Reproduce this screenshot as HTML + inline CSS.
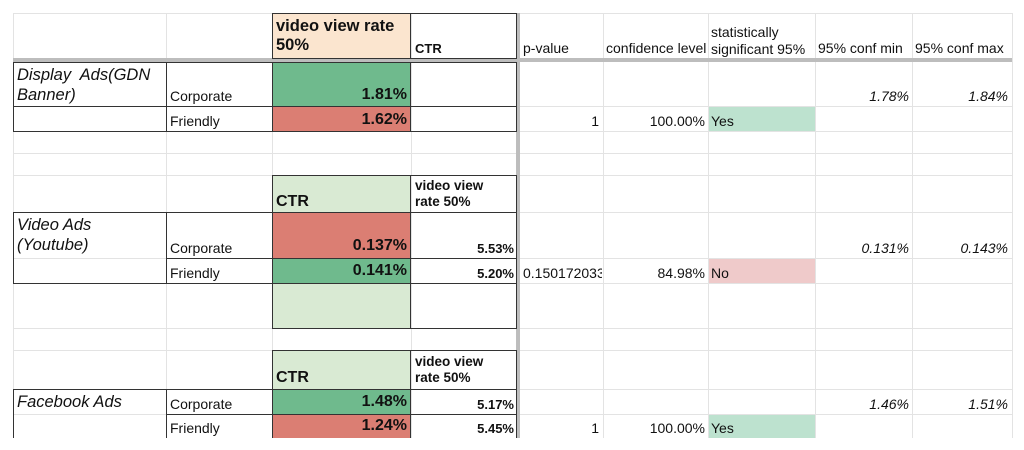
<!DOCTYPE html>
<html><head><meta charset="utf-8"><style>
body{margin:0;width:1024px;height:450px;background:#fff;position:relative;overflow:hidden;font-family:"Liberation Sans",Arial,sans-serif;color:#111}
.h{position:absolute;height:1px;background:#e3e3e3;left:13px;width:999px}
.v{position:absolute;width:1px;background:#e3e3e3;top:13px;height:425px}
.f{position:absolute}
.b{position:absolute;border:1px solid #333;box-sizing:border-box}
.t{position:absolute;font-size:14px;white-space:nowrap;line-height:15px}
.r{text-align:right}
.bd{font-weight:bold;font-size:13px}
.big{font-size:16px;font-weight:bold}
.it{font-style:italic}
</style></head><body>
<!-- fills -->
<div class="f" style="left:272px;top:13px;width:139px;height:45px;background:#fbe5cf"></div>
<div class="f" style="left:272px;top:62px;width:139px;height:44px;background:#6fba8d"></div>
<div class="f" style="left:272px;top:106px;width:139px;height:25px;background:#db7e73"></div>
<div class="f" style="left:708px;top:106px;width:107px;height:25px;background:#bde2cf"></div>
<div class="f" style="left:272px;top:175px;width:139px;height:37px;background:#d9ead3"></div>
<div class="f" style="left:272px;top:212px;width:139px;height:46px;background:#db7e73"></div>
<div class="f" style="left:272px;top:258px;width:139px;height:25px;background:#6fba8d"></div>
<div class="f" style="left:708px;top:258px;width:107px;height:25px;background:#efcaca"></div>
<div class="f" style="left:272px;top:283px;width:139px;height:45px;background:#d9ead3"></div>
<div class="f" style="left:272px;top:350px;width:139px;height:39px;background:#d9ead3"></div>
<div class="f" style="left:272px;top:389px;width:139px;height:25px;background:#6fba8d"></div>
<div class="f" style="left:272px;top:414px;width:139px;height:24px;background:#db7e73"></div>
<div class="f" style="left:708px;top:414px;width:107px;height:24px;background:#bde2cf"></div>
<!-- grid -->
<div class="h" style="top:13px"></div><div class="h" style="top:106px"></div><div class="h" style="top:131px"></div>
<div class="h" style="top:153px"></div><div class="h" style="top:175px"></div><div class="h" style="top:212px"></div>
<div class="h" style="top:258px"></div><div class="h" style="top:283px"></div><div class="h" style="top:328px"></div>
<div class="h" style="top:350px"></div><div class="h" style="top:389px"></div><div class="h" style="top:414px"></div>
<div class="v" style="left:13px"></div><div class="v" style="left:166px"></div><div class="v" style="left:272px"></div>
<div class="v" style="left:411px"></div><div class="v" style="left:603px"></div><div class="v" style="left:708px"></div>
<div class="v" style="left:815px"></div><div class="v" style="left:912px"></div><div class="v" style="left:1012px"></div>
<!-- thick frozen dividers -->
<div class="f" style="left:13px;top:58px;width:999px;height:4px;background:#bdbdbd"></div>
<div class="f" style="left:516px;top:13px;width:4px;height:425px;background:#bdbdbd"></div>
<!-- dark borders -->
<div class="b" style="left:272px;top:13px;width:245px;height:46px"></div>
<div class="b" style="left:410px;top:13px;width:1px;height:46px;border-width:0 0 0 1px"></div>
<div class="b" style="left:13px;top:62px;width:504px;height:70px"></div>
<div class="b" style="left:166px;top:62px;width:1px;height:70px;border-width:0 0 0 1px"></div>
<div class="b" style="left:272px;top:62px;width:1px;height:70px;border-width:0 0 0 1px"></div>
<div class="b" style="left:410px;top:62px;width:1px;height:70px;border-width:0 0 0 1px"></div>
<div class="b" style="left:13px;top:106px;width:504px;height:1px;border-width:1px 0 0 0"></div>
<div class="b" style="left:272px;top:175px;width:245px;height:38px"></div>
<div class="b" style="left:410px;top:175px;width:1px;height:38px;border-width:0 0 0 1px"></div>
<div class="b" style="left:13px;top:212px;width:504px;height:72px"></div>
<div class="b" style="left:166px;top:212px;width:1px;height:72px;border-width:0 0 0 1px"></div>
<div class="b" style="left:272px;top:212px;width:1px;height:72px;border-width:0 0 0 1px"></div>
<div class="b" style="left:410px;top:212px;width:1px;height:72px;border-width:0 0 0 1px"></div>
<div class="b" style="left:166px;top:258px;width:351px;height:1px;border-width:1px 0 0 0"></div>
<div class="b" style="left:272px;top:283px;width:245px;height:46px"></div>
<div class="b" style="left:410px;top:283px;width:1px;height:46px;border-width:0 0 0 1px"></div>
<div class="b" style="left:272px;top:350px;width:245px;height:40px"></div>
<div class="b" style="left:410px;top:350px;width:1px;height:40px;border-width:0 0 0 1px"></div>
<div class="b" style="left:13px;top:389px;width:504px;height:49px;border-bottom:0"></div>
<div class="b" style="left:166px;top:389px;width:1px;height:49px;border-width:0 0 0 1px"></div>
<div class="b" style="left:272px;top:389px;width:1px;height:49px;border-width:0 0 0 1px"></div>
<div class="b" style="left:410px;top:389px;width:1px;height:49px;border-width:0 0 0 1px"></div>
<div class="b" style="left:166px;top:414px;width:351px;height:1px;border-width:1px 0 0 0"></div>
<!-- header texts -->
<div class="t big" style="left:276px;top:17px;line-height:19px;font-size:16.5px">video view rate<br>50%</div>
<div class="t bd" style="left:415px;top:41px">CTR</div>
<div class="t" style="left:523px;top:41px">p-value</div>
<div class="t" style="left:606px;top:41px">confidence level</div>
<div class="t" style="left:711px;top:24px;line-height:17px">statistically<br>significant 95%</div>
<div class="t" style="left:818px;top:41px">95% conf min</div>
<div class="t" style="left:915px;top:41px">95% conf max</div>
<!-- block 1 -->
<div class="t it" style="left:17px;top:65px;font-size:16.5px;line-height:20px">Display&nbsp; Ads(GDN<br>Banner)</div>
<div class="t" style="left:170px;top:89px">Corporate</div>
<div class="t" style="left:170px;top:114px">Friendly</div>
<div class="t big r" style="left:272px;width:135px;top:87px">1.81%</div>
<div class="t big r" style="left:272px;width:135px;top:112px">1.62%</div>
<div class="t r" style="left:520px;width:79px;top:114px">1</div>
<div class="t r" style="left:603px;width:102px;top:114px">100.00%</div>
<div class="t" style="left:711px;top:114px">Yes</div>
<div class="t it r" style="left:815px;width:94px;top:89px">1.78%</div>
<div class="t it r" style="left:912px;width:96px;top:89px">1.84%</div>
<!-- block 2 -->
<div class="t big" style="left:276px;top:194px">CTR</div>
<div class="t bd" style="left:415px;top:178px;font-size:13.5px;line-height:16px">video view<br>rate 50%</div>
<div class="t it" style="left:17px;top:215px;font-size:16.5px;line-height:20px">Video Ads<br>(Youtube)</div>
<div class="t" style="left:170px;top:241px">Corporate</div>
<div class="t" style="left:170px;top:266px">Friendly</div>
<div class="t big r" style="left:272px;width:135px;top:238px">0.137%</div>
<div class="t big r" style="left:272px;width:135px;top:263px">0.141%</div>
<div class="t bd r" style="left:411px;width:103px;top:241px">5.53%</div>
<div class="t bd r" style="left:411px;width:103px;top:266px">5.20%</div>
<div class="t" style="left:523px;top:266px;width:79px;overflow:hidden">0.150172033</div>
<div class="t r" style="left:603px;width:102px;top:266px">84.98%</div>
<div class="t" style="left:711px;top:266px">No</div>
<div class="t it r" style="left:815px;width:94px;top:241px">0.131%</div>
<div class="t it r" style="left:912px;width:96px;top:241px">0.143%</div>
<!-- block 3 -->
<div class="t big" style="left:276px;top:370px">CTR</div>
<div class="t bd" style="left:415px;top:354px;font-size:13.5px;line-height:16px">video view<br>rate 50%</div>
<div class="t it" style="left:17px;top:392px;font-size:16.5px;line-height:20px">Facebook Ads</div>
<div class="t" style="left:170px;top:397px">Corporate</div>
<div class="t" style="left:170px;top:421px">Friendly</div>
<div class="t big r" style="left:272px;width:135px;top:394px">1.48%</div>
<div class="t big r" style="left:272px;width:135px;top:418px">1.24%</div>
<div class="t bd r" style="left:411px;width:103px;top:397px">5.17%</div>
<div class="t bd r" style="left:411px;width:103px;top:421px">5.45%</div>
<div class="t r" style="left:520px;width:79px;top:421px">1</div>
<div class="t r" style="left:603px;width:102px;top:421px">100.00%</div>
<div class="t" style="left:711px;top:421px">Yes</div>
<div class="t it r" style="left:815px;width:94px;top:397px">1.46%</div>
<div class="t it r" style="left:912px;width:96px;top:397px">1.51%</div>
<div class="f" style="left:0;top:438px;width:1024px;height:12px;background:#fff"></div>
</body></html>
